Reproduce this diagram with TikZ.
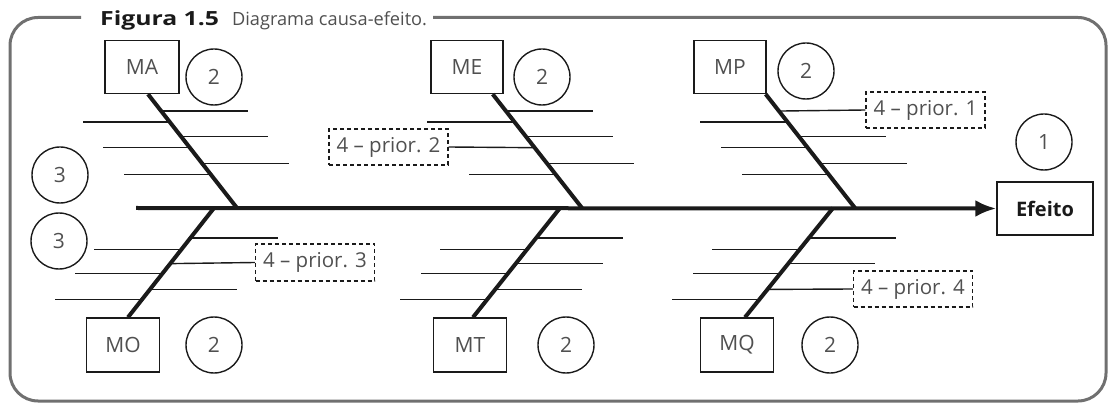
\documentclass[tikz,border=0pt]{standalone}
\usepackage{fontspec}
\setmainfont{Open Sans}
\newfontfamily\titleboldfont[FakeStretch=1.27]{Open Sans}
\usetikzlibrary{arrows.meta,calc}
\definecolor{framegray}{HTML}{707070}
\definecolor{labelgray}{HTML}{505050}
\definecolor{inkdark}{HTML}{1A1A1A}
\newcommand\fishrib[4]{%
  \path (#1) -- (#2) coordinate[pos=#3] (ribpt);
  \draw[ribline] (ribpt) -- ++(#4,0);}
\newcommand\fishribto[4]{%
  \path (#1) -- (#2) coordinate[pos=#3] (ribpt);
  \draw[ribline] (ribpt) -- (#4);}
\begin{document}
\begin{tikzpicture}[x=1pt,y=-1pt,
  catbox/.style={draw=inkdark,line width=1.4pt,text=labelgray,font=\fontsize{21}{21}\selectfont,minimum width=73pt,minimum height=53pt,inner sep=0pt},
  effbox/.style={draw=inkdark,line width=1.4pt,text=inkdark,font=\fontsize{20}{20}\selectfont\bfseries,minimum width=96pt,minimum height=53pt,inner sep=0pt},
  numcirc/.style={circle,draw=inkdark,line width=1.4pt,text=labelgray,font=\fontsize{21}{21}\selectfont,minimum size=56pt,inner sep=0pt},
  priobox/.style={draw=inkdark,dashed,dash pattern=on 4pt off 3pt,line width=1.3pt,text=labelgray,font=\fontsize{20.5}{20.5}\selectfont,minimum width=119pt,minimum height=36pt,inner sep=0pt},
  bone/.style={draw=inkdark,line width=4pt},
  spine/.style={draw=inkdark,line width=4pt,-{Latex[length=21pt,width=17pt]}},
  ribline/.style={draw=inkdark,line width=1.4pt},
  frameline/.style={draw=framegray,line width=3pt,rounded corners=28pt}
]
\useasboundingbox (0,0) rectangle (1108,403);
% frame
\draw[frameline] (81,17.5) -- (10,17.5) -- (10,401) -- (1106,401) -- (1106,17.5) -- (433,17.5);
\node[anchor=base west,inner sep=0pt] (title) at (100,26)
  {{\fontsize{19.5}{19.5}\selectfont\titleboldfont\bfseries\color{inkdark}Figura 1.5}\hspace{13pt}{\fontsize{18.2}{18.2}\selectfont\color{labelgray}Diagrama causa-efeito.}};
% category boxes
\node[catbox,minimum width=74pt] (MA) at (142,67) {MA};
\node[catbox,minimum width=72pt] (ME) at (467,67) {ME};
\node[catbox,minimum width=72pt] (MP) at (730,67) {MP};
\node[catbox,minimum height=54pt] (MO) at (123,345) {MO};
\node[catbox,minimum height=54pt] (MT) at (470,345) {MT};
\node[catbox,minimum height=54pt] (MQ) at (737,345) {MQ};
\node[effbox] (Ef) at (1045,208.5) {Efeito};
% circles
\node[numcirc] (cA) at (214,77) {2};
\node[numcirc] (cE) at (542,77) {2};
\node[numcirc] (cP) at (806,71) {2};
\node[numcirc] (c1) at (1044,142) {1};
\node[numcirc] (c3a) at (60,175) {3};
\node[numcirc] (c3b) at (59,241) {3};
\node[numcirc] (cO) at (214,345) {2};
\node[numcirc] (cT) at (566,345) {2};
\node[numcirc] (cQ) at (830,345) {2};
% priority boxes
\node[priobox] (p1) at (925.5,110) {4 – prior. 1};
\node[priobox] (p2) at (388.5,147) {4 – prior. 2};
\node[priobox,minimum height=37pt] (p3) at (315,262.5) {4 – prior. 3};
\node[priobox] (p4) at (913,289) {4 – prior. 4};
% spine
\coordinate (tail) at (136,208);
\draw[spine] (tail) -- (Ef.west);
% junctions on the spine
\coordinate (jA) at (237,208);
\coordinate (jE) at (582,208);
\coordinate (jP) at (855,208);
\coordinate (jO) at (214,208);
\coordinate (jT) at (560,208);
\coordinate (jQ) at (833,208);
% bone tops
\coordinate (tA) at ([xshift=6pt]MA.south);
\coordinate (tE) at ([xshift=-11pt]ME.south east);
\coordinate (tP) at ([xshift=-1pt]MP.south east);
\coordinate (tO) at ([xshift=5pt]MO.north);
\coordinate (tT) at ([xshift=3pt]MT.north);
\coordinate (tQ) at ([xshift=8pt]MQ.north);
% ribs upper (y = 110,122,136,147,163,174)
\foreach \b in {A,E,P}{
  \fishrib{t\b}{j\b}{0.243}{-87}
  \fishrib{t\b}{j\b}{0.374}{87}
  \fishrib{t\b}{j\b}{0.609}{87}
  \fishrib{t\b}{j\b}{0.704}{-87}
}
\fishrib{tA}{jA}{0.148}{87}
\fishrib{tE}{jE}{0.148}{87}
\fishribto{tP}{jP}{0.148}{p1.west}
\fishrib{tA}{jA}{0.470}{-87}
\fishribto{tE}{jE}{0.470}{p2.east}
\fishrib{tP}{jP}{0.470}{-87}
% ribs lower (y = 237,249,263,273,289,299), from spine
\foreach \b in {O,T,Q}{
  \fishrib{j\b}{t\b}{0.273}{87}
  \fishrib{j\b}{t\b}{0.382}{-87}
  \fishrib{j\b}{t\b}{0.600}{-87}
  \fishrib{j\b}{t\b}{0.836}{-87}
}
\fishribto{jO}{tO}{0.509}{p3.west}
\fishrib{jT}{tT}{0.509}{87}
\fishrib{jQ}{tQ}{0.509}{87}
\fishrib{jO}{tO}{0.745}{87}
\fishrib{jT}{tT}{0.745}{87}
\fishribto{jQ}{tQ}{0.745}{p4.west}
% bones
\foreach \b in {A,E,P,O,T,Q}{\draw[bone] (t\b) -- (j\b);}
\end{tikzpicture}
\end{document}
